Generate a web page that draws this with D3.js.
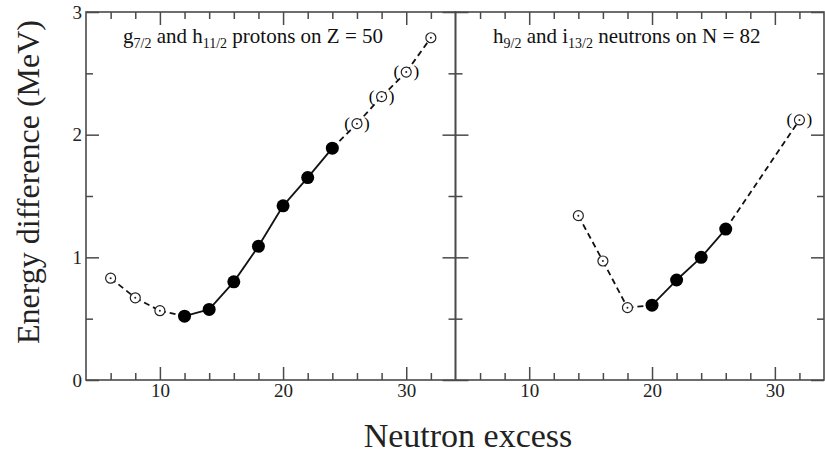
<!DOCTYPE html>
<html>
<head>
<meta charset="utf-8">
<script src="https://cdn.jsdelivr.net/npm/d3@7"></script>
<style>
  body { margin: 0; background: #fff; }
  svg { display: block; font-family: "Liberation Serif", "DejaVu Serif", serif; }
</style>
</head>
<body>
<svg id="chart" width="825" height="455"></svg>
<script>
// proton panel: g7/2 - h11/2 on Z = 50
const protonN = [6, 8, 10, 12, 14, 16, 18, 20, 22, 24, 26, 28, 30, 32]
const protonE = [0.83, 0.67, 0.565, 0.52, 0.575, 0.80, 1.09, 1.42, 1.65, 1.89, 2.09, 2.31, 2.51, 2.79]
const protonKind = ['open', 'open', 'open', 'filled', 'filled', 'filled', 'filled', 'filled', 'filled', 'filled', 'paren', 'paren', 'paren', 'open']

// neutron panel: h9/2 - i13/2 on N = 82
const neutronN = [14, 16, 18, 20, 22, 24, 26, 32]
const neutronE = [1.34, 0.97, 0.59, 0.61, 0.815, 1.0, 1.23, 2.12]
const neutronKind = ['open', 'open', 'open', 'filled', 'filled', 'filled', 'filled', 'paren']

const xTicks = [10, 20, 30]
const yTicks = [0, 1, 2, 3]

const serif = '"Liberation Serif", "DejaVu Serif", serif'
const svg = d3.select('#chart')
const plotTop = 12
const plotBottom = 380
const frameColor = '#4a4a4a'

const yScale = d3.scaleLinear([0, 3], [plotBottom, plotTop])

const panels = [
  { x0: 86, x1: 455.5, n: protonN, e: protonE, kind: protonKind, labels: true,
    title: ['g', '7/2', ' and h', '11/2', ' protons on Z = 50'], titleX: 123 },
  { x0: 455.5, x1: 824, n: neutronN, e: neutronE, kind: neutronKind, labels: false,
    title: ['h', '9/2', ' and i', '13/2', ' neutrons on N = 82'], titleX: 493 }
]

panels.forEach(p => {
  const xScale = d3.scaleLinear([4, 34], [p.x0, p.x1])
  const g = svg.append('g')

  // ticks, inward on all four sides
  const xMinor = d3.range(6, 34, 2).filter(v => v % 10)
  const yMinor = d3.range(0.5, 3, 1)

  g.append('g').attr('transform', `translate(0,${plotBottom})`)
    .call(d3.axisBottom(xScale).tickValues(xTicks).tickSize(-13).tickFormat(d3.format('d')).tickPadding(4))
  g.append('g').attr('transform', `translate(0,${plotTop})`)
    .call(d3.axisTop(xScale).tickValues(xTicks).tickSize(-13).tickFormat(''))
  const la = g.append('g').attr('transform', `translate(${p.x0},0)`)
    .call(d3.axisLeft(yScale).tickValues(yTicks).tickSize(-13).tickFormat(d3.format('d')).tickPadding(4))
  if (!p.labels) la.selectAll('text').remove()
  g.append('g').attr('transform', `translate(${p.x1},0)`)
    .call(d3.axisRight(yScale).tickValues(yTicks).tickSize(-13).tickFormat(''))

  g.append('g').attr('transform', `translate(0,${plotBottom})`)
    .call(d3.axisBottom(xScale).tickValues(xMinor).tickSize(-7).tickFormat(''))
  g.append('g').attr('transform', `translate(0,${plotTop})`)
    .call(d3.axisTop(xScale).tickValues(xMinor).tickSize(-7).tickFormat(''))
  g.append('g').attr('transform', `translate(${p.x0},0)`)
    .call(d3.axisLeft(yScale).tickValues(yMinor).tickSize(-7).tickFormat(''))
  g.append('g').attr('transform', `translate(${p.x1},0)`)
    .call(d3.axisRight(yScale).tickValues(yMinor).tickSize(-7).tickFormat(''))

  g.selectAll('.domain').remove()
  g.selectAll('.tick line').attr('stroke', frameColor).attr('stroke-width', 1.5)
  g.selectAll('.tick text').attr('font-family', serif).attr('font-size', 19).attr('fill', '#222')

  g.append('rect')
    .attr('x', p.x0).attr('y', plotTop)
    .attr('width', p.x1 - p.x0).attr('height', plotBottom - plotTop)
    .attr('fill', 'none').attr('stroke', frameColor).attr('stroke-width', 1.6)

  // connecting segments: solid between filled points, dashed otherwise
  const pts = p.n.map((n, i) => ({ n, e: p.e[i], kind: p.kind[i] }))
  d3.pairs(pts).forEach(([a, b]) => {
    const solid = a.kind === 'filled' && b.kind === 'filled'
    g.append('line')
      .attr('x1', xScale(a.n)).attr('y1', yScale(a.e))
      .attr('x2', xScale(b.n)).attr('y2', yScale(b.e))
      .attr('stroke', '#111').attr('stroke-width', 1.8)
      .attr('stroke-dasharray', solid ? null : '6,4')
  })

  const marks = g.selectAll('.mark').data(pts).join('g')
    .attr('class', 'mark')
    .attr('transform', d => `translate(${xScale(d.n)},${yScale(d.e)})`)

  marks.filter(d => d.kind === 'filled').append('circle')
    .attr('r', 6.5).attr('fill', '#000')

  const open = marks.filter(d => d.kind !== 'filled')
  open.append('circle').attr('r', 5).attr('fill', '#fff').attr('stroke', '#222').attr('stroke-width', 1.2)
  open.append('circle').attr('r', 1).attr('fill', '#222')

  const paren = marks.filter(d => d.kind === 'paren')
  paren.append('text').attr('x', -10).attr('y', 5).attr('text-anchor', 'middle')
    .attr('font-family', serif).attr('font-size', 17).text('(')
  paren.append('text').attr('x', 10).attr('y', 5).attr('text-anchor', 'middle')
    .attr('font-family', serif).attr('font-size', 17).text(')')

  // panel title with subscripts
  const t = g.append('text').attr('x', p.titleX).attr('y', 43)
    .attr('font-family', serif).attr('font-size', 21).attr('fill', '#111')
  p.title.forEach((s, i) => {
    const ts = t.append('tspan').text(s)
    if (i % 2 === 1) ts.attr('font-size', 14).attr('dy', 5)
    else if (i > 0) ts.attr('dy', -5)
  })
})

svg.append('text')
  .attr('transform', 'translate(39,182) rotate(-90)')
  .attr('text-anchor', 'middle')
  .attr('font-family', serif)
  .attr('font-size', 32).attr('fill', '#222')
  .text('Energy difference (MeV)')

svg.append('text')
  .attr('x', 468).attr('y', 447)
  .attr('text-anchor', 'middle')
  .attr('font-family', serif)
  .attr('font-size', 34).attr('fill', '#222')
  .text('Neutron excess')
</script>
</body>
</html>
